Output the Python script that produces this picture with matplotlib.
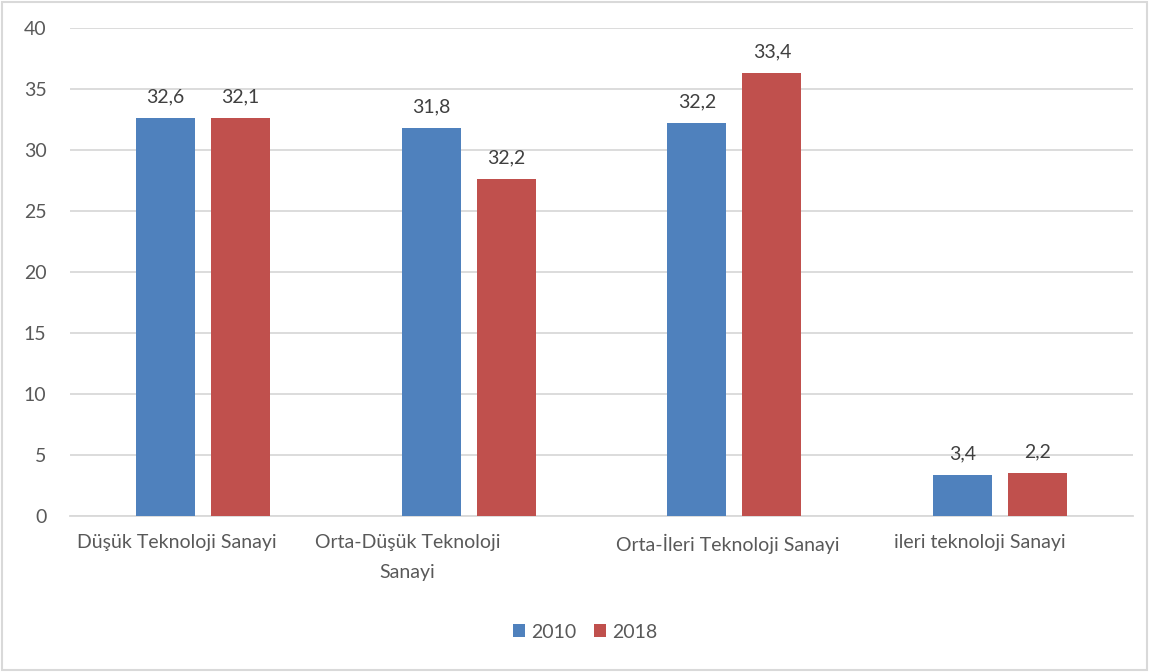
import matplotlib.pyplot as plt
import matplotlib.transforms as mtransforms
import numpy as np

categories = ['Düşük Teknoloji Sanayi', 'Orta-Düşük Teknoloji\nSanayi',
              'Orta-İleri Teknoloji Sanayi', 'ileri teknoloji Sanayi']
series = ['2010', '2018']
# bar heights as drawn in the picture
values_2010 = [32.6, 31.8, 32.2, 3.4]
values_2018 = [32.6, 27.6, 36.3, 3.5]
# data labels as printed in the picture
labels_2010 = ['32,6', '31,8', '32,2', '3,4']
labels_2018 = ['32,1', '32,2', '33,4', '2,2']
yticks = [0, 5, 10, 15, 20, 25, 30, 35, 40]

plt.rcParams['font.family'] = ['Lato', 'DejaVu Sans']
txt = '#595959'
blue = '#4F81BD'
red = '#C0504D'
fs = 14

fig = plt.figure(figsize=(11.49, 6.72), dpi=100)
ax = fig.add_axes([70 / 1149, 1 - 516 / 672, 1063 / 1149, 488 / 672])

x = np.arange(len(categories))
w = 0.222
off = 0.141
b1 = ax.bar(x - off, values_2010, w, color=blue, label=series[0], zorder=3)
b2 = ax.bar(x + off, values_2018, w, color=red, label=series[1], zorder=3)

for bars, labs in ((b1, labels_2010), (b2, labels_2018)):
    for rect, lab in zip(bars, labs):
        ax.annotate(lab, (rect.get_x() + rect.get_width() / 2, rect.get_height()),
                    xytext=(0, 9), textcoords='offset points', ha='center',
                    va='bottom', fontsize=fs, color='#404040')

ax.set_xlim(-0.5, len(categories) - 0.5)
ax.set_ylim(0, 40)
ax.set_yticks(yticks)
ax.set_xticks(x)
ax.set_xticklabels(categories, linespacing=1.95)
ax.yaxis.grid(True, color='#D9D9D9', linewidth=1.3, zorder=0)
for s in ['top', 'right', 'left']:
    ax.spines[s].set_visible(False)
ax.spines['bottom'].set_color('#D9D9D9')
ax.spines['bottom'].set_linewidth(1.3)
ax.tick_params(axis='both', length=0, labelsize=fs, colors=txt)
ax.tick_params(axis='y', pad=17)
ax.tick_params(axis='x', pad=13)

# excel places the category labels a little left of the bar groups
shifts = [-26, -61, -7, -20]
for lab, dx in zip(ax.get_xticklabels(), shifts):
    lab.set_transform(lab.get_transform() +
                      mtransforms.ScaledTranslation(dx / 100, 0, fig.dpi_scale_trans))

leg = fig.legend(loc='center', bbox_to_anchor=(585 / 1149, 1 - 632 / 672), ncol=2,
                 frameon=False, fontsize=fs, handlelength=0.65, handleheight=0.65,
                 handletextpad=0.3, columnspacing=0.9)
for t in leg.get_texts():
    t.set_color(txt)

fig.patches.append(plt.Rectangle((0.002, 0.003), 0.996, 0.994, transform=fig.transFigure,
                                 fill=False, edgecolor='#D9D9D9', linewidth=1.5))

fig.savefig('out.png', dpi=100)
